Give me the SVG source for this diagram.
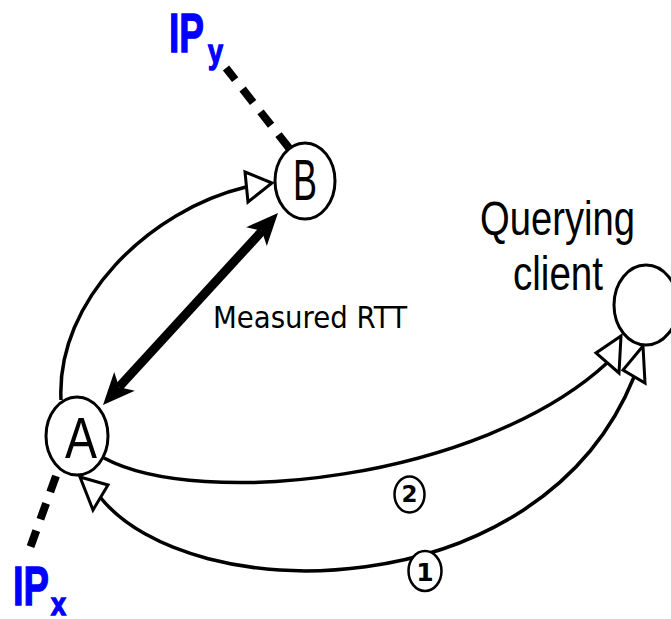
<svg xmlns="http://www.w3.org/2000/svg" width="671" height="619" viewBox="0 0 671 619">
  <style>
    .node { fill: #fff; stroke: #000; stroke-width: 3; }
    .nodelabel { font-family: "Liberation Sans", Arial, sans-serif; font-size: 57px; fill: #000; }
    .ip { font-family: "Liberation Sans", Arial, sans-serif; font-weight: bold; fill: #0000ff; stroke: #0000ff; stroke-width: 1.4; }
    .edge { fill: none; stroke: #000; stroke-width: 3.5; }
    .open-head { fill: #fff; stroke: #000; stroke-width: 3; stroke-linejoin: miter; }
    .dash { stroke: #000; stroke-width: 8; stroke-dasharray: 17 12; }
    .step { fill: #fff; stroke: #000; stroke-width: 2.5; }
    .steplabel { font-family: "DejaVu Sans", sans-serif; font-weight: bold; text-anchor: middle; }
  </style>

  <!-- address labels -->
  <g id="ip-y">
    <text class="ip" x="169" y="52" font-size="56" textLength="35" lengthAdjust="spacingAndGlyphs">IP</text>
    <text class="ip" x="208" y="63" font-size="34" textLength="15" lengthAdjust="spacingAndGlyphs">y</text>
  </g>
  <g id="ip-x">
    <text class="ip" x="13" y="605" font-size="56" textLength="36" lengthAdjust="spacingAndGlyphs">IP</text>
    <text class="ip" x="51" y="615" font-size="31" textLength="15" lengthAdjust="spacingAndGlyphs">x</text>
  </g>

  <g id="connectors">
    <!-- dashed address links -->
    <line class="dash" x1="289" y1="148" x2="226" y2="68"/>
    <line class="dash" x1="56" y1="476" x2="30" y2="548"/>

    <!-- A to B path -->
    <path class="edge" stroke-width="2.6" d="M61,400 C56,300 150,210 246,187"/>
    <polygon class="open-head" points="245,172 272,183 248,202"/>

    <!-- measured RTT double arrow -->
    <line x1="119" y1="387" x2="262" y2="231" stroke="#000" stroke-width="9"/>
    <polygon points="278,213 266.8,246 261.8,230.7 246.2,227.2" fill="#000"/>
    <polygon points="103,405 134.8,390.8 119.2,387.3 114.2,372" fill="#000"/>

    <!-- step 2: A to client -->
    <path class="edge" d="M104,458 C200,510 480,480 607,363"/>
    <polygon class="open-head" points="621,336 619,373 596,353"/>

    <!-- step 1: client to A -->
    <path class="edge" d="M634,377 C540,610 190,610 100,497"/>
    <polygon class="open-head" points="643,346 645,383 623,370"/>
    <polygon class="open-head" points="80,477 108,485 93,510"/>
  </g>

  <g id="step-2">
    <ellipse class="step" cx="409.5" cy="494.5" rx="15" ry="18"/>
    <text class="steplabel" x="409.5" y="502" font-size="23">2</text>
  </g>
  <g id="step-1">
    <ellipse class="step" cx="425" cy="571" rx="16.5" ry="20"/>
    <text class="steplabel" x="425" y="581" font-size="25">1</text>
  </g>

  <g id="node-b">
    <ellipse class="node" cx="305" cy="181" rx="30" ry="38"/>
    <text class="nodelabel" x="293" y="200" textLength="24" lengthAdjust="spacingAndGlyphs">B</text>
  </g>

  <g id="node-a">
    <ellipse class="node" cx="77" cy="436" rx="31" ry="39"/>
    <text class="nodelabel" x="65" y="458" font-size="55" textLength="32" lengthAdjust="spacingAndGlyphs">A</text>
  </g>

  <g id="node-client">
    <ellipse class="node" cx="646" cy="305" rx="32" ry="40"/>
    <text font-family="Liberation Sans, Arial, sans-serif" font-size="49" x="480" y="235" textLength="155" lengthAdjust="spacingAndGlyphs">Querying</text>
    <text font-family="Liberation Sans, Arial, sans-serif" font-size="49" x="513" y="290" textLength="90" lengthAdjust="spacingAndGlyphs">client</text>
  </g>

  <g id="rtt-label">
    <text font-family="DejaVu Sans, sans-serif" font-size="31" x="213" y="328" textLength="194" lengthAdjust="spacingAndGlyphs">Measured RTT</text>
  </g>
</svg>
